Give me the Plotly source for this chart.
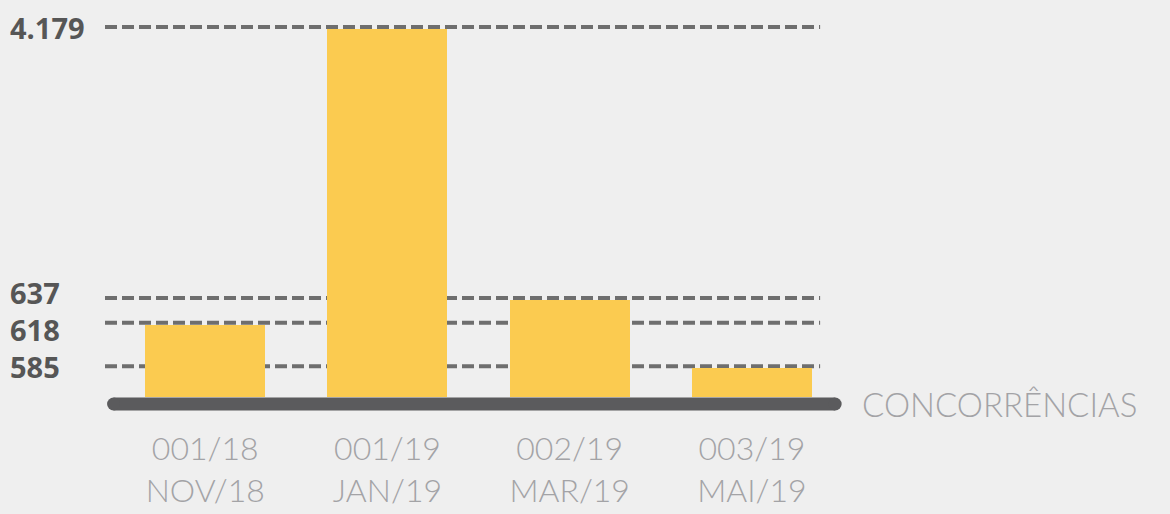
import numpy as np
import plotly.graph_objects as go

# ---- data ----
codes = ["001/18", "001/19", "002/19", "003/19"]
months = ["NOV/18", "JAN/19", "MAR/19", "MAI/19"]
values = [618, 4179, 637, 585]
ref_lines = [4179, 637, 618, 585]
ref_labels = ["4.179", "637", "618", "585"]
axis_title = "CONCORRÊNCIAS"

# ---- broken (non-linear) value scale used by the infographic ----
SCALE_VALUE = [563, 640, 4300]
SCALE_DISPLAY = [0, 101, 377]


def to_display(v):
    return np.interp(v, SCALE_VALUE, SCALE_DISPLAY)


BG = "#efefef"
BAR = "#fbcb50"
DASH = "#6e6e6e"
BASE = "#5b5b5d"
LIGHT = "#a3a3a6"
DARK = "#565656"

x = list(range(len(codes)))
fig = go.Figure()

fig.add_trace(go.Bar(
    x=x, y=to_display(values), marker=dict(color=BAR, line=dict(width=0)),
    width=0.658, hoverinfo="skip", showlegend=False,
))

# baseline with rounded ends
fig.add_trace(go.Scatter(
    x=[-0.503, 3.457], y=[-7, -7], mode="lines+markers",
    line=dict(color=BASE, width=13), marker=dict(color=BASE, size=13),
    cliponaxis=False, hoverinfo="skip", showlegend=False,
))

# dashed reference lines (behind bars)
label_shift = {4179: 0, 637: 5, 618: -7, 585: 0}
for v, lab in zip(ref_lines, ref_labels):
    yd = float(to_display(v)) + 2
    fig.add_shape(type="line", xref="paper", x0=0, x1=0.969, yref="y", y0=yd, y1=yd,
                  line=dict(color=DASH, width=4, dash="12px,5px"), layer="below")
    fig.add_annotation(xref="paper", x=(8 - 105) / 738, xanchor="left", yref="y", y=yd,
                       yanchor="middle", yshift=label_shift[v], text=lab, showarrow=False,
                       font=dict(family="Open Sans", size=29, color=DARK, weight=700))

fig.add_annotation(xref="paper", x=(860 - 105) / 738, xanchor="left", yref="y", y=-7,
                   yanchor="middle", text=axis_title, showarrow=False,
                   font=dict(family="Lato", size=33, color=LIGHT, weight=300))

fig.update_layout(
    width=1170, height=514, paper_bgcolor=BG, plot_bgcolor=BG,
    margin=dict(l=105, r=327, t=0, b=97),
    bargap=0,
    xaxis=dict(range=[-0.55, 3.5], tickvals=x,
               ticktext=[f"{c}<br>{m}" for c, m in zip(codes, months)],
               showgrid=False, zeroline=False, showline=False, ticks="",
               tickfont=dict(family="Lato", size=32, color=LIGHT, weight=300),
               ticklabelstandoff=10),
    yaxis=dict(range=[-20, 397], showgrid=False, zeroline=False, showline=False,
               showticklabels=False, ticks=""),
)

fig.write_html("out.html", config={"displayModeBar": False, "staticPlot": True})

# remove the default page margin so the figure sits at the window's corner
with open("out.html", "r", encoding="utf-8") as f:
    html = f.read()
html = html.replace("<head>", "<head><style>html,body{margin:0;padding:0;background:#efefef;overflow:hidden;}</style>", 1)
with open("out.html", "w", encoding="utf-8") as f:
    f.write(html)
